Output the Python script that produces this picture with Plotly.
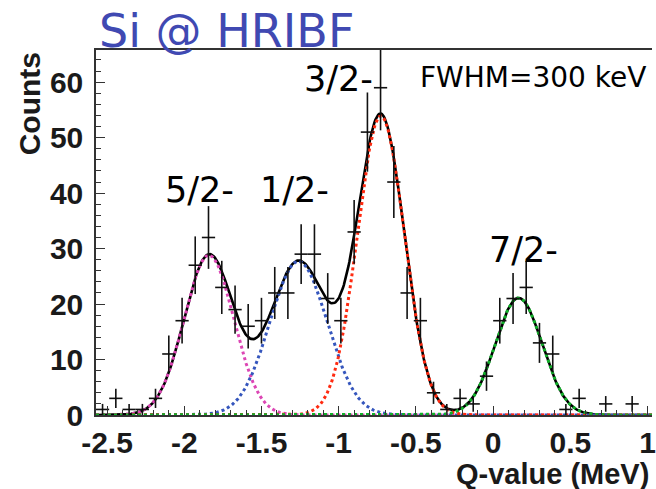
import numpy as np
import plotly.graph_objects as go

# Histogram: bin centres (MeV) and counts
q_centers = [-2.529, -2.443, -2.357, -2.271, -2.186, -2.100, -2.014, -1.929,
             -1.843, -1.757, -1.671, -1.586, -1.500, -1.414, -1.329, -1.243,
             -1.157, -1.071, -0.986, -0.900, -0.814, -0.729, -0.643, -0.557,
             -0.471, -0.386, -0.300, -0.214, -0.129, -0.043, 0.043, 0.129,
             0.214, 0.300, 0.386, 0.471, 0.557, 0.729, 0.900]
counts = [1, 3, 1, 1, 3, 11, 17, 27,
          32, 23, 19, 16, 17, 22, 22, 29,
          29, 21, 17, 33, 51, 59, 42, 22,
          17, 4, 1, 3, 2, 7, 17, 21,
          23, 13, 11, 1, 3, 2, 2]
bin_half_width = 0.0429

# Fitted Gaussian components: label, centroid (MeV), amplitude, sigma (MeV), colour
peak_labels = ["5/2-", "1/2-", "3/2-", "7/2-"]
peak_centroids = [-1.84, -1.26, -0.727, 0.165]
peak_amplitudes = [28.8, 27.7, 53.9, 21.1]
peak_sigmas = [0.160, 0.185, 0.152, 0.152]
peak_colors = ["#dc46b4", "#3556bd", "#ff2a10", "#12b02a"]

# Axis ticks
x_tick_vals = [-2.5, -2.0, -1.5, -1.0, -0.5, 0.0, 0.5, 1.0]
x_tick_text = ["-2.5", "-2", "-1.5", "-1", "-0.5", "0", "0.5", "1"]
y_tick_vals = [0, 10, 20, 30, 40, 50, 60]
y_tick_text = ["0", "10", "20", "30", "40", "50", "60"]

x_range = [-2.5714, 1.0286]
y_range = [0, 65.8]

xs = np.linspace(x_range[0], x_range[1], 600)
components = [a * np.exp(-0.5 * ((xs - m) / s) ** 2)
              for m, a, s in zip(peak_centroids, peak_amplitudes, peak_sigmas)]
total = np.sum(components, axis=0)

fig = go.Figure()

# total fit (solid black) underneath the dotted components
fig.add_trace(go.Scatter(x=xs, y=total, mode="lines",
                         line=dict(color="black", width=2.6), hoverinfo="skip"))
for comp, col in zip(components, peak_colors):
    fig.add_trace(go.Scatter(x=xs, y=comp, mode="lines",
                             line=dict(color=col, width=3, dash="dot"),
                             hoverinfo="skip"))

# data points with bin-width and Poisson error bars
fig.add_trace(go.Scatter(
    x=q_centers, y=counts, mode="markers",
    marker=dict(size=1, color="black"),
    error_x=dict(type="constant", value=bin_half_width, color="#111111",
                 thickness=1.6, width=0),
    error_y=dict(type="data", array=list(np.sqrt(counts)), color="#111111",
                 thickness=1.6, width=0),
))

label_font = dict(family="DejaVu Sans", size=35, color="black")
label_pos = [(0.1857, 0.616), (0.357, 0.616), (0.436, 0.921), (0.768, 0.452)]
for text, (px, py) in zip(peak_labels, label_pos):
    fig.add_annotation(x=px, y=py, xref="paper", yref="paper", text=text,
                       showarrow=False, font=label_font,
                       xanchor="center", yanchor="middle")

fig.add_annotation(x=0.5786, y=0.926, xref="paper", yref="paper",
                   text="FWHM=300 keV", showarrow=False,
                   font=dict(family="DejaVu Sans", size=28, color="black"),
                   xanchor="left", yanchor="middle")

fig.add_annotation(x=0.002, y=1.052, xref="paper", yref="paper",
                   text="Si @ HRIBF", showarrow=False,
                   font=dict(family="DejaVu Sans", size=46, color="#4049b2"),
                   xanchor="left", yanchor="middle")

fig.add_annotation(x=-0.12, y=0.852, xref="paper", yref="paper",
                   text="Counts", showarrow=False, textangle=-90,
                   font=dict(family="Liberation Sans", size=30, color="#1a1a1a",
                             weight="bold"),
                   xanchor="center", yanchor="middle")

fig.add_annotation(x=0.999, y=-0.163, xref="paper", yref="paper",
                   text="Q-value (MeV)", showarrow=False,
                   font=dict(family="Liberation Sans", size=29, color="#1a1a1a",
                             weight="bold"),
                   xanchor="right", yanchor="middle")

tick_font = dict(family="Liberation Sans", size=30, color="#1a1a1a", weight="bold")

fig.update_layout(
    width=656, height=489,
    margin=dict(l=96, r=0, t=50, b=74),
    paper_bgcolor="white", plot_bgcolor="white",
    showlegend=False,
    xaxis=dict(range=x_range, showgrid=False, zeroline=False,
               showline=True, mirror=True, linecolor="#333333", linewidth=1.5,
               ticks="inside", ticklen=9, tickcolor="#333333", tickwidth=1,
               tickvals=x_tick_vals, ticktext=x_tick_text, tickfont=tick_font,
               ticklabelstandoff=0, ticklabeloverflow="allow",
               minor=dict(ticks="inside", ticklen=5, dtick=0.1, tick0=0,
                          tickcolor="#333333", showgrid=False)),
    yaxis=dict(range=y_range, showgrid=False, zeroline=False,
               showline=True, mirror=False, linecolor="#333333", linewidth=1.5,
               ticks="inside", ticklen=9, tickcolor="#333333", tickwidth=1,
               tickvals=y_tick_vals, ticktext=y_tick_text, tickfont=tick_font,
               ticklabelstandoff=5,
               minor=dict(ticks="inside", ticklen=5, dtick=2, tick0=0,
                          tickcolor="#333333", showgrid=False)),
)

fig.write_html("out.html")
